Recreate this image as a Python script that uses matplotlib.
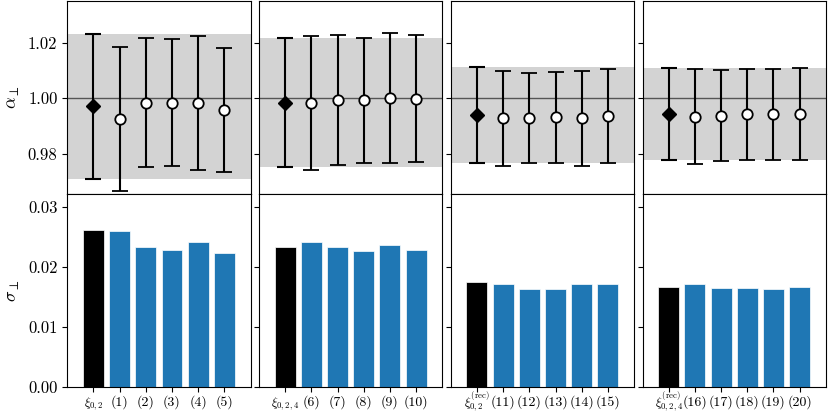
import matplotlib
matplotlib.use('Agg')
import matplotlib.pyplot as plt
import numpy as np

plt.rcParams.update({
    'font.family': 'cmr10',
    'mathtext.fontset': 'cm',
    'axes.formatter.use_mathtext': True,
    'font.size': 12,
    'ytick.labelsize': 12,
    'xtick.labelsize': 10,
})

# alpha_perp best fits, one list per panel (first entry = reference xi, black diamond)
alpha_p1 = [0.9971, 0.9924, 0.9984, 0.9984, 0.9982, 0.9958]
alpha_p2 = [0.9984, 0.9984, 0.9993, 0.9993, 1.0001, 0.9999]
alpha_p3 = [0.9939, 0.9928, 0.9928, 0.9931, 0.9928, 0.9936]
alpha_p4 = [0.9945, 0.9934, 0.9937, 0.9943, 0.9942, 0.9942]

# sigma_perp, same order
sigma_p1 = [0.0261, 0.0260, 0.0233, 0.0229, 0.0241, 0.0224]
sigma_p2 = [0.0233, 0.0241, 0.0234, 0.0226, 0.0236, 0.0229]
sigma_p3 = [0.0174, 0.0171, 0.0163, 0.0163, 0.0171, 0.0171]
sigma_p4 = [0.0166, 0.0171, 0.0164, 0.0164, 0.0163, 0.0166]

labels_p1 = [r'$\xi_{0,2}$', '(1)', '(2)', '(3)', '(4)', '(5)']
labels_p2 = [r'$\xi_{0,2,4}$', '(6)', '(7)', '(8)', '(9)', '(10)']
labels_p3 = [r'$\xi_{0,2}^{(\mathrm{rec})}$', '(11)', '(12)', '(13)', '(14)', '(15)']
labels_p4 = [r'$\xi_{0,2,4}^{(\mathrm{rec})}$', '(16)', '(17)', '(18)', '(19)', '(20)']

alphas = [alpha_p1, alpha_p2, alpha_p3, alpha_p4]
sigmas = [sigma_p1, sigma_p2, sigma_p3, sigma_p4]
tick_labels = [labels_p1, labels_p2, labels_p3, labels_p4]

BLUE = '#1f77b4'


def plot_alpha_sigma():
    fig, axes = plt.subplots(2, 4, figsize=(8.3, 4.17), dpi=100, sharex='col')
    fig.subplots_adjust(left=0.081, right=0.995, top=0.997, bottom=0.073, wspace=0.046, hspace=0.0)

    for i in range(4):
        ax_a = axes[0, i]
        ax_s = axes[1, i]
        a = np.array(alphas[i])
        s = np.array(sigmas[i])
        x = np.arange(len(a))

        ax_a.axhspan(a[0] - s[0], a[0] + s[0], color='#d3d3d3', lw=0, zorder=0)
        ax_a.axhline(1.0, color='#555555', lw=1.0, zorder=1)
        ax_a.errorbar(x[:1], a[:1], yerr=s[:1], fmt='D', color='k', ms=7,
                      capsize=6, elinewidth=1.5, capthick=1.5, zorder=3)
        ax_a.errorbar(x[1:], a[1:], yerr=s[1:], fmt='o', color='k', mfc='w', mec='k',
                      mew=1.3, ms=7.5, capsize=6, elinewidth=1.5, capthick=1.5, zorder=3)
        ax_a.set_ylim(0.9655, 1.035)
        ax_a.set_yticks([0.98, 1.00, 1.02])
        ax_a.tick_params(axis='x', bottom=False)

        colors = ['k'] + [BLUE] * (len(s) - 1)
        ax_s.bar(x, s, width=0.8, color=colors, edgecolor='w', linewidth=0.5)
        ax_s.set_ylim(0, 0.0322)
        ax_s.set_yticks([0.00, 0.01, 0.02, 0.03])
        ax_s.set_xlim(-1, 6)
        ax_s.set_xticks(x)
        ax_s.set_xticklabels(tick_labels[i])
        # put all labels on a common baseline, like the latex original
        ax_s.tick_params(axis='x', pad=10.5)
        for lab in ax_s.get_xticklabels():
            lab.set_verticalalignment('baseline')
        ax_s.get_xticklabels()[0].set_fontsize(9)

        if i == 0:
            ax_a.set_yticklabels(['0.98', '1.00', '1.02'])
            ax_s.set_yticklabels(['0.00', '0.01', '0.02', '0.03'])
            ax_a.set_ylabel(r'$\alpha_\perp$', fontsize=13)
            ax_s.set_ylabel(r'$\sigma_\perp$', fontsize=13)
        else:
            ax_a.set_yticklabels([])
            ax_s.set_yticklabels([])

    fig.align_ylabels(axes[:, 0])
    fig.savefig('out.png', dpi=100)


if __name__ == "__main__":
    plot_alpha_sigma()
